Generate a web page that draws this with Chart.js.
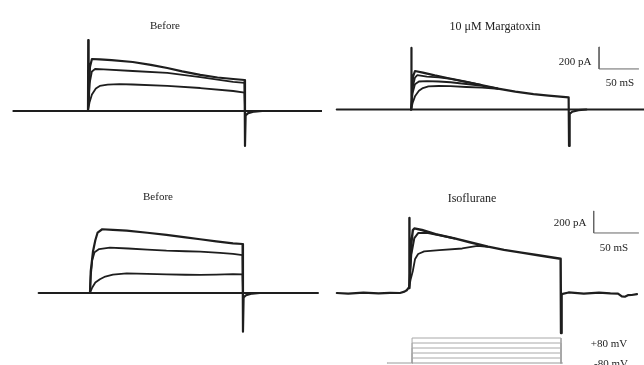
<!DOCTYPE html>
<html>
<head>
<meta charset="utf-8">
<script src="https://cdn.jsdelivr.net/npm/chart.js@4"></script>
<style>
  html,body{margin:0;padding:0;background:#fff;}
  #fig{position:relative;width:644px;height:365px;overflow:hidden;background:#fff;filter:blur(0.35px);}
  canvas{position:absolute;}
  .lbl{position:absolute;font-family:"Liberation Serif","DejaVu Serif",serif;font-size:11px;color:#222;white-space:nowrap;transform:translate(-50%,-50%);line-height:1;}
  .big{font-size:12px;}
</style>
</head>
<body>
<div id="fig">
  <canvas id="c1" width="322" height="180" style="left:0;top:0"></canvas>
  <canvas id="c2" width="322" height="180" style="left:322px;top:0"></canvas>
  <canvas id="c3" width="322" height="185" style="left:0;top:180px"></canvas>
  <canvas id="c4" width="322" height="185" style="left:322px;top:180px"></canvas>
  <div class="lbl" style="left:165px;top:25px">Before</div>
  <div class="lbl big" style="left:495px;top:26px">10 μM Margatoxin</div>
  <div class="lbl" style="left:575px;top:61px">200 pA</div>
  <div class="lbl" style="left:620px;top:82px">50 mS</div>
  <div class="lbl" style="left:158px;top:196px">Before</div>
  <div class="lbl big" style="left:472px;top:198px">Isoflurane</div>
  <div class="lbl" style="left:570px;top:222px">200 pA</div>
  <div class="lbl" style="left:614px;top:247px">50 mS</div>
  <div class="lbl" style="left:609px;top:343px">+80 mV</div>
  <div class="lbl" style="left:611px;top:363px">-80 mV</div>
</div>
<script>
// ===== DATA: [time (ms), current (pA)] ; step from 0 to 200 ms =====
// Panel 1: Before (top)
const p1Baseline = [[-95,0],[298,0]];
const p1TraceA = [[0,0],[0.3,646],[0.8,60],[2.5,400],[5,473],[15,470],[30,462],[57,446],[80,420],[101,391],[120,360],[143,328],[165,305],[185,291],[199.5,282],[200,-318],[200.8,-40],[204,-20],[212,-5],[222,0]];
const p1TraceB = [[0,0],[2,250],[5,360],[9,382],[20,378],[57,364],[101,346],[143,309],[185,264],[199.5,255],[200,0]];
const p1TraceC = [[0,0],[2,80],[5,150],[10,205],[15,228],[25,240],[40,245],[57,241],[101,228],[143,209],[185,182],[199.5,168],[200,0]];
// Panel 2: 10 uM Margatoxin
const p2Baseline = [[-94,0],[295,0]];
const p2TraceA = [[0,0],[0.3,560],[0.8,60],[2.5,300],[5,350],[15,335],[30,310],[46,287],[70,252],[89,223],[110,190],[132,162],[155,140],[174,126],[199.5,111],[200,-332],[200.8,-40],[204,-20],[212,-5],[222,0]];
const p2TraceB = [[0,0],[2,200],[5,290],[8,312],[20,300],[35,292],[50,278],[70,252],[89,224]];
const p2TraceC = [[0,0],[2,150],[5,230],[10,255],[20,258],[35,255],[50,248],[70,232],[90,215],[110,192]];
const p2TraceD = [[0,0],[2,60],[5,120],[10,170],[15,195],[22,210],[35,214],[50,212],[70,205],[90,200],[110,187]];
const p2ScaleBar = [[238,569],[238,369],[288,369]];
// Panel 3: Before (bottom)
const p3Baseline = [[-67,0],[298,0]];
const p3TraceA = [[0,0],[1,200],[4,380],[7,480],[10,550],[16,580],[30,575],[48,567],[75,548],[100,528],[125,506],[144,489],[165,470],[187,452],[199.5,446],[200,-352],[200.8,-40],[204,-20],[212,-5],[222,0]];
const p3TraceB = [[0,0],[1,150],[3,300],[6,370],[12,400],[26,412],[50,405],[75,395],[100,385],[125,380],[144,376],[170,365],[187,355],[199.5,345],[200,0]];
const p3TraceC = [[0,0],[3,50],[7,95],[13,125],[20,150],[30,168],[48,179],[75,174],[100,170],[125,166],[144,164],[165,168],[187,172],[199.5,170],[200,0]];
// Panel 4: Isoflurane
const p4BaselinePre = [[-95,0],[-80,-5],[-60,3],[-40,-4],[-25,2],[-12,0],[-6,12],[-3,25],[-1,45],[0,45]];
const p4BaselinePost = [[200.8,-10],[210,5],[230,-6],[250,4],[265,-3],[275,-5],[280,-30],[284,-34],[288,-20],[293,-18],[300,-10]];
const p4TraceA = [[0,45],[0.3,683],[0.8,80],[3,450],[5,570],[7,588],[17,573],[35,535],[60,497],[80,462],[104,422],[125,392],[148,367],[170,343],[191,321],[199.5,312],[200,-364],[200.8,-10]];
const p4TraceB = [[0,45],[3,350],[7,500],[12,545],[25,545],[40,525],[60,495]];
const p4TraceC = [[0,45],[2,120],[5,200],[8,310],[12,355],[20,378],[40,390],[70,405],[90,428],[104,420]];
const p4ScaleBar = [[243,746],[243,546],[302,546]];
// Voltage protocol: holding -80 mV, steps (mV) from 4 to 200 ms
const protocolHold = [[-29,-80],[202,-80]];
const protocolSteps = [-48,-16,16,48,80];

// ===== drawing =====
const pts = a => a.map(p => ({x:p[0], y:p[1]}));
const TRACE = '#1e1e1e';
function ds(arr, w, color, axis){
  return {data: pts(arr), borderColor: color || TRACE, borderWidth: w || 1.8,
          pointRadius: 0, tension: 0, fill: false, yAxisID: axis || 'y',
          borderJoinStyle: 'round', borderCapStyle: 'round'};
}
function makeChart(id, xr, yr, datasets, extraScales){
  const scales = {
    x: {type:'linear', display:false, min:xr[0], max:xr[1]},
    y: {type:'linear', display:false, min:yr[0], max:yr[1]}
  };
  Object.assign(scales, extraScales || {});
  return new Chart(document.getElementById(id), {
    type: 'line',
    data: {datasets},
    options: {
      responsive:false, animation:false, devicePixelRatio:1,
      layout:{padding:0},
      plugins:{legend:{display:false}, tooltip:{enabled:false}, title:{display:false}},
      scales,
      datasets:{line:{clip:false}}
    }
  });
}

makeChart('c1', [-112.1, 298.1], [-628, 1010], [
  ds(p1Baseline, 2.2), ds(p1TraceC), ds(p1TraceB), ds(p1TraceA, 2.2)
]);
makeChart('c2', [-112.7, 294.9], [-641, 996], [
  ds(p2Baseline, 2.2), ds(p2TraceD), ds(p2TraceC), ds(p2TraceB), ds(p2TraceA, 2.2),
  ds(p2ScaleBar, 1, '#666')
]);
makeChart('c3', [-117.6, 303.3], [-655, 1028], [
  ds(p3Baseline, 2.2), ds(p3TraceC), ds(p3TraceB), ds(p3TraceA, 2.2)
]);
const protoSets = [ds(protocolHold, 1, '#9a9a9a', 'v')];
protocolSteps.forEach(L => protoSets.push(ds([[4,-80],[4,L],[200,L],[200,-80]], 1, '#a8a8a8', 'v')));
makeChart('c4', [-114.5, 309.2], [-655, 1028], [
  ...protoSets,
  ds(p4BaselinePre, 2.2), ds(p4BaselinePost, 2.2), ds(p4TraceC), ds(p4TraceB, 2), ds(p4TraceA, 2.4),
  ds(p4ScaleBar, 1, '#666')
], { v: {type:'linear', display:false, min:-92.8, max:1091.2} });
</script>
</body>
</html>
